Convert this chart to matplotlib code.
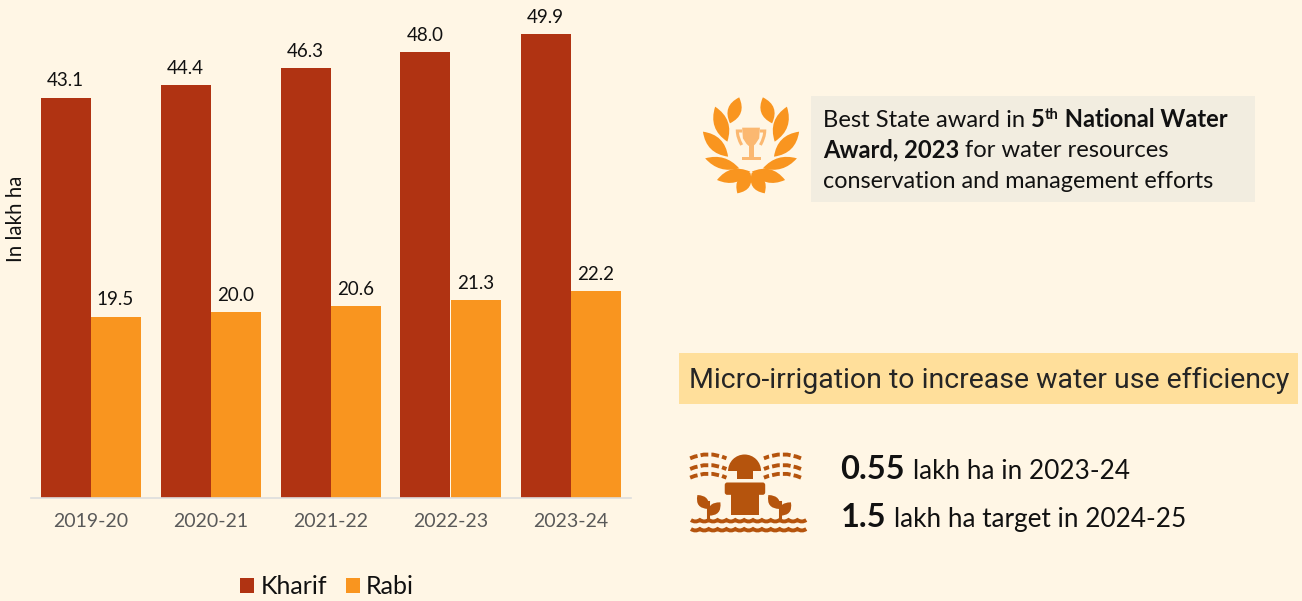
import matplotlib
matplotlib.use("Agg")
import matplotlib.pyplot as plt
from matplotlib.patches import PathPatch, Rectangle, FancyBboxPatch, Wedge, Polygon
from matplotlib.path import Path

years = ["2019-20", "2020-21", "2021-22", "2022-23", "2023-24"]
kharif = [43.1, 44.4, 46.3, 48.0, 49.9]
rabi = [19.5, 20.0, 20.6, 21.3, 22.2]

BG = "#FFF6E5"
RED = "#B03312"
ORANGE = "#F9951F"
BROWN = "#B5540D"
LIGHT = "#FBB871"
FONT = "Lato"

plt.rcParams["font.family"] = [FONT, "DejaVu Sans"]

fig = plt.figure(figsize=(13.02, 6.01), dpi=100, facecolor=BG)

# full figure axes in pixels, for the boxes and icons on the right
bg = fig.add_axes([0, 0, 1, 1])
bg.set_xlim(0, 1302)
bg.set_ylim(601, 0)
bg.axis("off")

# chart axes, x from 30.5 to 630.5 px, baseline at 497.5 px
ax = fig.add_axes([30.5/1302, (601-497.5)/601, 600/1302, 497.5/601])
ax.patch.set_alpha(0)
pos = list(range(len(years)))
w = 50/120
b1 = ax.bar([p - w/2 for p in pos], kharif, w, color=RED, label="Kharif")
b2 = ax.bar([p + w/2 for p in pos], rabi, w, color=ORANGE, label="Rabi")
ax.set_xlim(-0.5, 4.5)
ax.set_ylim(0, 497.5/9.28)
ax.bar_label(b1, fmt="%.1f", padding=6, fontsize=13.5, color="#111111")
ax.bar_label(b2, fmt="%.1f", padding=6, fontsize=13.5, color="#111111")
ax.set_xticks(pos)
ax.set_xticklabels(years, fontsize=14, color="#595959")
ax.tick_params(axis="x", length=0, pad=11)
ax.set_yticks([])
for s in ["top", "left", "right"]:
    ax.spines[s].set_visible(False)
ax.spines["bottom"].set_color("#DDDDDD")
ax.spines["bottom"].set_linewidth(1.2)

fig.text(16/1302, 1-219/601, "In lakh ha", rotation=90, ha="center", va="center",
         fontsize=14.8, color="#111111")

fig.legend(handles=[b1, b2], loc="center", bbox_to_anchor=(327/1302, 1-587/601), ncol=2,
           frameon=False, fontsize=18, handlelength=0.56, handleheight=0.56,
           handletextpad=0.25, columnspacing=0.75, labelcolor="#111111")


def z1(x, y):
    return x/2.703 + 680, y/3 + 80


def z2(x, y):
    return x/2.481 + 670, y/3 + 345


def leaf(base, tip, bulge, color):
    # two curves from base to tip, bulge is px to each side of the midline
    dx, dy = tip[0]-base[0], tip[1]-base[1]
    n = (dx*dx + dy*dy)**0.5
    nx, ny = -dy/n, dx/n
    mx, my = (base[0]+tip[0])/2, (base[1]+tip[1])/2
    c1 = (mx + nx*bulge, my + ny*bulge)
    c2 = (mx - nx*bulge, my - ny*bulge)
    p = Path([base, c1, tip, c2, base], [Path.MOVETO, Path.CURVE3, Path.CURVE3, Path.CURVE3, Path.CURVE3])
    bg.add_patch(PathPatch(p, fc=color, ec="none"))


def runs(x, y, parts, size):
    # lays bold and regular pieces one after the other on a baseline
    r = fig.canvas.get_renderer()
    for s, weight in parts:
        sz, yy = size, y
        if weight == "sup":
            sz, yy, weight = size*0.62, y-8, "bold"
        t = bg.text(x, yy, s, fontsize=sz, fontweight=weight, color="#111111", ha="left", va="baseline")
        x += t.get_window_extent(r).width


# award box
bg.add_patch(Rectangle((811, 96), 444, 106, fc="#F2EDE0", ec="none"))
runs(823, 127, [("Best State award in ", "normal"), ("5", "bold"), ("th", "sup"), (" National Water", "bold")], 17.1)
runs(823, 157, [("Award, 2023 ", "bold"), ("for water resources", "normal")], 17.1)
runs(823, 188, [("conservation and management efforts", "normal")], 16.8)

# laurel
cx = 192
for b, t, bu in [((128, 185), (95, 80), 38), ((135, 130), (160, 52), 36), ((130, 230), (62, 155), 36),
                 ((160, 265), (68, 235), 30), ((190, 275), (100, 300), 36), ((190, 278), (155, 340), 36)]:
    leaf(z1(*b), z1(*t), bu/2.7, ORANGE)
    leaf(z1(2*cx-b[0], b[1]), z1(2*cx-t[0], t[1]), bu/2.7, ORANGE)

# trophy
cup = [(168, 143), (216, 143), (214, 175), (204, 192), (198, 198), (186, 198), (180, 192), (170, 175)]
bg.add_patch(Polygon([z1(*p) for p in cup], fc=LIGHT, ec="none"))
bg.add_patch(Rectangle(z1(186, 195), 14/2.703, 36/3, fc=LIGHT, ec="none"))
bg.add_patch(Rectangle(z1(168, 230), 50/2.703, 11/3, fc=LIGHT, ec="none"))
for x1, x2 in [(168, 155), (216, 229)]:
    p = Path([z1(x1, 153), z1(x2, 153), z1(x2, 172), z1(x1+(x2-x1)*0.1, 195)],
             [Path.MOVETO, Path.LINETO, Path.CURVE3, Path.CURVE3])
    bg.add_patch(PathPatch(p, fc="none", ec=LIGHT, lw=2.2))

# micro irrigation header
bg.add_patch(Rectangle((679, 353), 619, 51, fc="#FFDF9B", ec="none"))
bg.text(689, 388, "Micro-irrigation to increase water use efficiency", fontsize=20.5, family="Roboto",
        color="#252525", ha="left", va="baseline")

# sprinkler icon
bg.add_patch(Wedge(z2(185, 378), 16.5, 180, 360, fc=BROWN, ec="none"))
bg.add_patch(Rectangle(z2(165, 372), 40/2.481, 30/3, fc=BROWN, ec="none"))
bg.add_patch(FancyBboxPatch(z2(142, 420), 88/2.481, 22/3, boxstyle="round,pad=2.5", fc=BROWN, ec="none"))
bg.add_patch(Rectangle(z2(152, 445), 68/2.481, 65/3, fc=BROWN, ec="none"))
for x0 in [95, 272]:
    bg.plot(*zip(z2(x0, 470), z2(x0, 522)), color=BROWN, lw=2.2)
for b, t in [((95, 492), (68, 450)), ((95, 512), (125, 472)), ((272, 492), (244, 450)), ((272, 512), (300, 472))]:
    leaf(z2(*b), z2(*t), 10.5, BROWN)
for y0 in [525, 552]:
    verts, codes = [z2(52, y0)], [Path.MOVETO]
    x = 52
    while x < 318:
        verts += [z2(x+11, y0+9), z2(x+22, y0)]
        codes += [Path.CURVE3, Path.CURVE3]
        x += 22
    bg.add_patch(PathPatch(Path(verts, codes), fc="none", ec=BROWN, lw=2.8))
for y0 in [330, 362, 388]:
    for x1, xm, x2 in [(50, 95, 140), (325, 280, 233)]:
        p = Path([z2(x1, y0+10), z2(xm, y0-14), z2(x2, y0+10)], [Path.MOVETO, Path.CURVE3, Path.CURVE3])
        bg.add_patch(PathPatch(p, fc="none", ec=BROWN, lw=2.8, ls=(0, (2, 0.8))))

# micro irrigation numbers
runs(840, 479, [("0.55", "bold")], 23.5)
bg.text(913, 479, "lakh ha in 2023-24", fontsize=18.8, color="#111111", ha="left", va="baseline")
runs(841, 527, [("1.5", "bold")], 23.5)
bg.text(894, 527, "lakh ha target in 2024-25", fontsize=18.8, color="#111111", ha="left", va="baseline")

fig.savefig("out.png", dpi=100, facecolor=BG)
